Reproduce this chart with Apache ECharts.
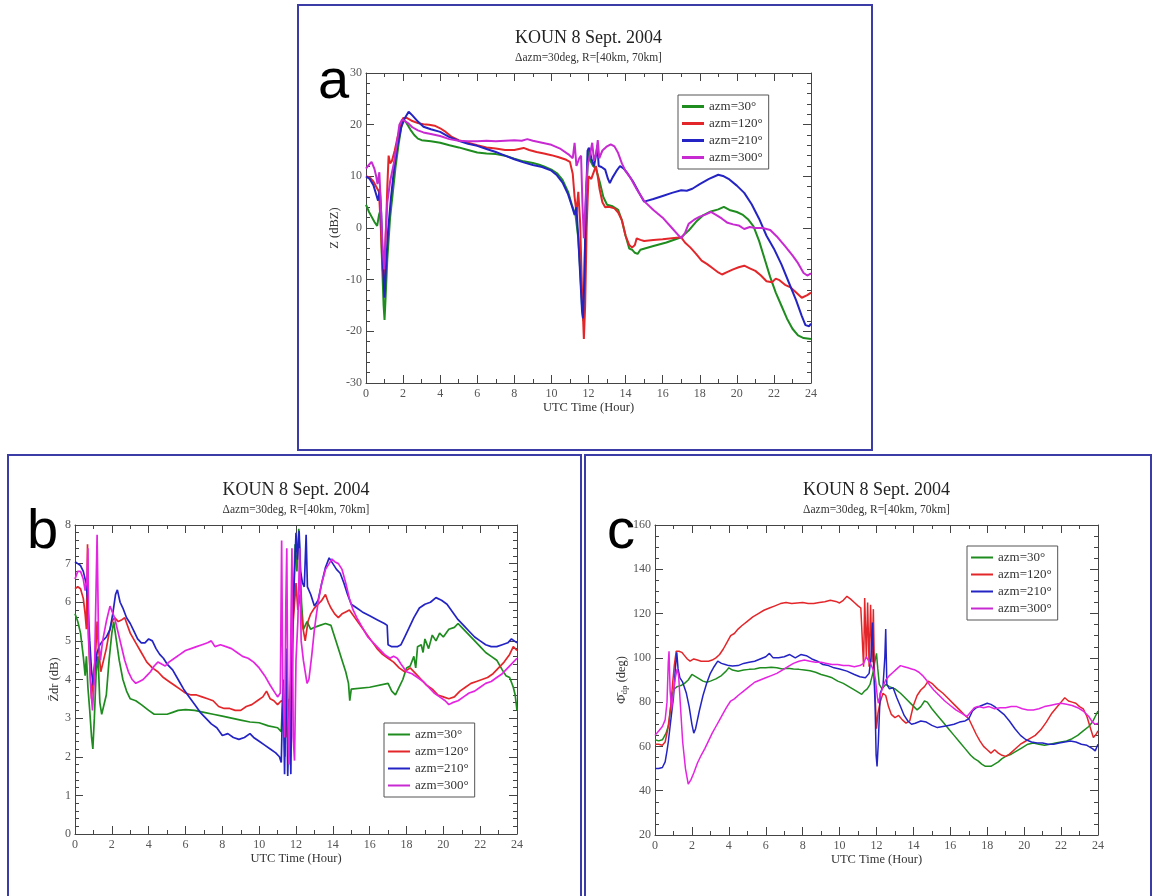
<!DOCTYPE html>
<html><head><meta charset="utf-8">
<script src="https://cdn.jsdelivr.net/npm/echarts@6/dist/echarts.min.js"></script>
<style>html,body{margin:0;padding:0;background:#fff}#c{width:1153px;height:896px}</style>
</head><body><div id="c"></div>
<script>
// ---------- DATA ----------
const seriesNames = ['azm=30°', 'azm=120°', 'azm=210°', 'azm=300°'];
const hourTicks = [0, 2, 4, 6, 8, 10, 12, 14, 16, 18, 20, 22, 24];
const titleText = 'KOUN 8 Sept. 2004';
const subtitleText = 'Δazm=30deg, R=[40km, 70km]';
const panelLetters = ['a', 'b', 'c'];
const xName = 'UTC Time (Hour)';

// Panel a: Z (dBZ)
const aG = [[0,4.5],[0.15,3.2],[0.3,2.2],[0.45,1.2],[0.6,0.4],[0.7,2.5],[0.78,3.5],[0.85,-5],[0.95,-15],[1.0,-17.8],[1.05,-14],[1.15,-6],[1.3,2],[1.45,7],[1.6,12],[1.75,16],[1.9,19.5],[2.0,21],[2.15,20.5],[2.4,19],[2.6,18],[2.8,17.3],[3.0,17],[3.5,16.8],[4.0,16.5],[4.5,16],[5.0,15.6],[5.5,15.1],[6.0,14.6],[6.5,14.4],[7.0,14.3],[7.5,14],[8.0,13.4],[8.5,12.9],[9.0,12.6],[9.3,12.3],[9.6,11.9],[10.0,11.3],[10.3,10.6],[10.6,9.3],[10.9,7],[11.1,4.5],[11.3,2.5],[11.45,-2],[11.55,-8],[11.65,-15],[11.72,-18],[11.8,-5],[11.9,8],[12.0,15.5],[12.1,13],[12.25,12],[12.4,11.5],[12.6,9],[12.8,6],[13.0,4.5],[13.3,4.2],[13.6,3.5],[13.8,1.5],[14.0,-1.5],[14.2,-4],[14.35,-4.2],[14.5,-4.8],[14.65,-5],[14.8,-4.2],[15.5,-3.5],[16.2,-2.8],[17.0,-1.8],[17.4,-0.5],[17.8,1.2],[18.2,2.5],[18.6,3.2],[19.0,3.6],[19.3,4.1],[19.6,3.5],[20.0,3.1],[20.3,2.6],[20.6,1.7],[20.9,0.3],[21.2,-2.5],[21.5,-6],[21.8,-9.5],[22.1,-12.5],[22.4,-15],[22.7,-17.5],[23.0,-19.5],[23.3,-20.8],[23.6,-21.3],[24,-21.5]];
const aR = [[0,10],[0.2,9.8],[0.4,9],[0.55,8],[0.7,7],[0.8,0],[0.9,-8],[0.97,-10],[1.05,-3],[1.15,8],[1.22,14],[1.3,12.5],[1.4,13],[1.55,15],[1.7,17.5],[1.85,19.5],[2.0,21.3],[2.2,21.3],[2.5,20.7],[2.8,20.3],[3.1,20.1],[3.4,20],[3.7,19.8],[4.0,19.3],[4.3,18.6],[4.6,17.7],[5.0,17],[5.5,16.5],[6.0,16],[6.5,15.6],[7.0,15.4],[7.5,15.1],[8.0,15.1],[8.5,15.5],[8.8,15.1],[9.2,14.7],[9.6,14.4],[10.0,14.1],[10.4,13.7],[10.8,13.2],[11.0,12.8],[11.15,10.5],[11.25,6],[11.35,3],[11.45,7],[11.55,1],[11.65,-12],[11.75,-21.5],[11.82,-15],[11.9,0],[12.0,10],[12.15,9.5],[12.3,11],[12.4,12],[12.5,10],[12.6,7.5],[12.75,5],[12.9,4],[13.1,4.1],[13.4,3.8],[13.6,3],[13.8,1.5],[14.0,-1.5],[14.2,-3.3],[14.35,-3.8],[14.5,-3.3],[14.6,-2],[14.8,-2.3],[15.0,-2.5],[15.5,-2.3],[16.0,-2.2],[16.5,-2],[17.0,-1.8],[17.2,-2.8],[17.5,-3.8],[17.8,-5],[18.1,-6.3],[18.4,-7],[18.7,-7.8],[19.0,-8.6],[19.2,-9],[19.5,-8.5],[19.8,-8],[20.1,-7.6],[20.4,-7.3],[20.7,-7.8],[21.0,-8.3],[21.3,-9.2],[21.6,-10.3],[21.9,-10.5],[22.1,-9.8],[22.3,-10.1],[22.6,-11],[22.9,-11.5],[23.2,-12.5],[23.5,-13.5],[23.8,-13],[24,-12.5]];
const aB = [[0,10],[0.2,9.5],[0.4,8.3],[0.55,6.5],[0.65,5.3],[0.75,7.5],[0.82,3],[0.9,-6],[1.0,-13.5],[1.07,-8],[1.2,0],[1.35,6],[1.5,11],[1.7,16],[1.9,19.5],[2.1,21.3],[2.3,22.5],[2.5,21.8],[2.8,20.6],[3.1,19.6],[3.5,19.1],[4.0,18.6],[4.5,17.6],[5.0,16.9],[5.5,16.3],[6.0,15.9],[6.5,15.3],[7.0,14.7],[7.5,14],[8.0,13.3],[8.5,12.7],[9.0,12.2],[9.5,11.8],[10.0,11.1],[10.3,10.2],[10.6,8.8],[10.9,6.5],[11.1,4.3],[11.25,2.5],[11.35,4],[11.45,-2],[11.55,-9],[11.65,-16],[11.7,-17.5],[11.78,-10],[11.85,4],[11.95,15],[12.05,15.5],[12.15,13.5],[12.3,12],[12.4,14],[12.48,16],[12.55,12],[12.7,11.8],[12.9,11.3],[13.05,9.5],[13.15,8.7],[13.3,9.8],[13.5,11],[13.7,12],[13.9,11.5],[14.1,10.6],[14.4,9],[14.7,7],[15.0,5.1],[15.5,5.6],[16.0,6.2],[16.5,6.8],[17.0,7.3],[17.3,7.2],[17.6,7.6],[18.0,8.5],[18.5,9.5],[19.0,10.3],[19.3,10],[19.6,9.4],[20.0,8.2],[20.4,6.8],[20.8,4.6],[21.2,1.8],[21.6,-1.5],[22.0,-4],[22.4,-7],[22.8,-10.5],[23.2,-14],[23.5,-17],[23.7,-18.8],[23.9,-19],[24,-18.5]];
const aM = [[0,11.5],[0.15,12.2],[0.3,12.8],[0.45,11.5],[0.55,10],[0.62,8.5],[0.72,10.8],[0.78,6],[0.88,-3],[0.98,-8],[1.05,-2],[1.15,5],[1.3,9],[1.5,12.5],[1.65,16],[1.8,20],[1.95,21],[2.1,20.7],[2.3,20.2],[2.5,19.5],[2.8,18.9],[3.1,18.5],[3.5,18.2],[4.0,17.8],[4.5,17.2],[5.0,16.9],[5.5,16.8],[6.0,16.8],[6.5,16.9],[7.0,16.8],[7.5,16.9],[8.0,17],[8.4,16.9],[8.7,17.2],[9.0,16.9],[9.5,16.5],[10.0,16.1],[10.5,15.3],[10.9,14.3],[11.15,13.5],[11.25,16.5],[11.35,12],[11.5,13.5],[11.6,14],[11.67,5],[11.75,-2],[11.85,6],[11.95,12],[12.1,14.5],[12.2,16.5],[12.3,13],[12.42,14.5],[12.5,17],[12.58,13.5],[12.75,15],[13.0,15.8],[13.2,16.2],[13.4,15.8],[13.6,14.5],[13.8,12.5],[14.0,11],[14.3,9.5],[14.6,7.5],[15.0,5.2],[15.5,3.5],[16.0,2],[16.5,0],[17.0,-2],[17.2,-1],[17.4,0.8],[17.7,1.6],[18.0,2.2],[18.3,2.6],[18.6,3.1],[18.9,2.5],[19.2,1.8],[19.5,1],[19.8,0.7],[20.1,0.5],[20.4,-0.2],[20.7,0.2],[21.0,0],[21.4,0],[21.8,-0.4],[22.2,-1.8],[22.6,-3.5],[23.0,-5.3],[23.3,-6.8],[23.6,-8.7],[23.8,-9.2],[24,-8.8]];

// Panel b: Zdr (dB)
const bG = [[0,5.7],[0.15,5.5],[0.3,5.2],[0.45,4.6],[0.55,4.1],[0.62,4.6],[0.7,3.8],[0.8,3.2],[0.9,2.5],[0.97,2.2],[1.05,3],[1.15,4.2],[1.25,4.6],[1.35,3.4],[1.45,3.1],[1.55,3.15],[1.7,3.6],[1.85,4.5],[2.0,5.2],[2.1,5.5],[2.25,5.0],[2.4,4.5],[2.6,4.0],[2.8,3.7],[3.0,3.5],[3.3,3.45],[3.6,3.35],[4.0,3.2],[4.3,3.1],[4.6,3.1],[5.0,3.1],[5.3,3.15],[5.6,3.2],[6.0,3.22],[6.5,3.2],[7.0,3.15],[7.5,3.1],[8.0,3.05],[8.5,3.0],[9.0,2.95],[9.5,2.9],[10.0,2.88],[10.5,2.8],[11.0,2.75],[11.2,2.65],[11.3,3.8],[11.4,2.0],[11.5,4.5],[11.6,2.5],[11.8,5.0],[11.95,7.5],[12.05,6.8],[12.15,7.9],[12.3,6.0],[12.4,5.3],[12.6,5.5],[12.8,5.3],[13.0,5.35],[13.3,5.4],[13.6,5.45],[13.9,5.4],[14.1,5.1],[14.3,4.8],[14.5,4.5],[14.7,4.2],[14.85,3.9],[14.92,3.45],[15.0,3.75],[16.0,3.8],[17.0,3.9],[17.2,3.7],[17.4,3.6],[17.6,3.8],[17.8,4.0],[18.0,4.3],[18.2,4.35],[18.4,4.6],[18.5,4.3],[18.6,4.85],[18.8,4.9],[18.9,4.7],[19.0,5.05],[19.2,4.8],[19.4,5.15],[19.6,5.0],[19.8,5.2],[20.0,5.1],[20.3,5.3],[20.6,5.35],[20.8,5.45],[21.0,5.35],[21.3,5.2],[21.6,5.05],[22.0,4.85],[22.3,4.7],[22.6,4.6],[22.9,4.5],[23.2,4.25],[23.4,4.1],[23.6,4.05],[23.8,3.8],[23.9,3.6],[24,3.2]];
const bR = [[0,6.35],[0.15,6.4],[0.3,6.35],[0.45,6.1],[0.55,5.7],[0.62,5.3],[0.68,7.5],[0.72,5.2],[0.82,4.2],[0.9,3.5],[1.0,4.2],[1.1,4.5],[1.2,5.5],[1.28,4.8],[1.4,4.2],[1.55,4.5],[1.7,4.8],[1.85,5.2],[2.0,5.5],[2.15,5.6],[2.35,5.5],[2.55,5.55],[2.7,5.6],[2.85,5.4],[3.0,5.2],[3.3,4.95],[3.6,4.7],[3.9,4.45],[4.2,4.3],[4.5,4.2],[4.8,4.05],[5.1,3.95],[5.4,3.85],[5.7,3.75],[6.0,3.65],[6.3,3.6],[6.6,3.6],[6.9,3.55],[7.2,3.5],[7.5,3.45],[7.8,3.3],[8.1,3.25],[8.4,3.25],[8.7,3.2],[9.0,3.2],[9.3,3.3],[9.6,3.35],[9.9,3.45],[10.2,3.55],[10.4,3.7],[10.6,3.5],[10.8,3.45],[11.0,3.35],[11.2,3.45],[11.35,3.4],[11.45,2.5],[11.55,3.5],[11.7,2.0],[11.85,5.5],[12.0,6.5],[12.1,5.8],[12.2,6.2],[12.35,5.4],[12.5,5.0],[12.65,5.5],[12.8,5.7],[13.0,5.85],[13.2,5.95],[13.4,6.05],[13.6,6.2],[13.75,6.0],[13.9,5.85],[14.1,5.7],[14.3,5.6],[14.5,5.7],[14.7,5.75],[14.9,5.8],[15.2,5.6],[15.5,5.4],[15.8,5.2],[16.1,5.0],[16.4,4.8],[16.7,4.65],[17.0,4.55],[17.3,4.45],[17.6,4.3],[17.9,4.2],[18.2,4.3],[18.5,4.15],[18.8,4.0],[19.1,3.85],[19.4,3.75],[19.7,3.6],[20.0,3.55],[20.3,3.5],[20.6,3.55],[20.9,3.7],[21.2,3.8],[21.5,3.9],[21.8,3.95],[22.1,4.0],[22.4,4.05],[22.7,4.15],[23.0,4.3],[23.3,4.45],[23.6,4.65],[23.8,4.85],[24,4.75]];
const bB = [[0,7.05],[0.15,7.0],[0.3,6.95],[0.45,6.8],[0.6,6.5],[0.7,6.0],[0.8,5.0],[0.9,4.2],[1.0,3.85],[1.1,4.3],[1.2,4.7],[1.35,4.9],[1.5,5.0],[1.7,5.1],[1.9,5.3],[2.05,5.7],[2.2,6.2],[2.3,6.32],[2.45,6.0],[2.6,5.85],[2.8,5.6],[3.0,5.45],[3.2,5.25],[3.4,5.05],[3.6,4.95],[3.8,4.95],[4.0,5.05],[4.2,5.0],[4.4,4.8],[4.6,4.65],[4.8,4.55],[5.0,4.4],[5.3,4.25],[5.6,4.0],[5.9,3.75],[6.2,3.55],[6.5,3.35],[6.8,3.15],[7.1,3.0],[7.4,2.85],[7.7,2.75],[8.0,2.55],[8.3,2.6],[8.6,2.5],[8.9,2.45],[9.2,2.5],[9.5,2.6],[9.7,2.5],[10.0,2.4],[10.3,2.3],[10.6,2.2],[10.9,2.1],[11.1,2.0],[11.2,1.85],[11.3,4.0],[11.38,1.55],[11.48,4.8],[11.55,1.5],[11.65,3.5],[11.72,1.55],[11.8,5.0],[11.9,6.5],[12.0,7.8],[12.08,7.1],[12.17,7.85],[12.25,6.8],[12.35,6.5],[12.45,6.4],[12.55,7.75],[12.62,6.4],[12.8,6.2],[13.0,5.9],[13.2,6.05],[13.4,6.5],[13.6,6.9],[13.8,7.15],[14.0,7.0],[14.2,6.85],[14.4,6.75],[14.6,6.5],[14.8,6.2],[15.0,5.95],[15.3,5.85],[15.6,5.75],[16.0,5.65],[16.4,5.55],[16.8,5.45],[16.95,5.4],[17.0,4.9],[17.2,4.85],[17.5,4.85],[17.7,4.9],[17.9,5.1],[18.1,5.3],[18.4,5.6],[18.7,5.85],[19.0,5.95],[19.3,6.0],[19.6,6.12],[19.9,6.05],[20.2,5.95],[20.5,5.75],[20.8,5.55],[21.1,5.4],[21.4,5.25],[21.7,5.1],[22.0,5.0],[22.3,4.9],[22.6,4.85],[22.9,4.85],[23.2,4.9],[23.5,4.95],[23.7,5.05],[23.85,5.0],[24,4.95]];
const bM = [[0,6.6],[0.15,6.8],[0.3,6.8],[0.45,6.6],[0.55,6.3],[0.65,6.6],[0.7,7.4],[0.75,5.0],[0.85,3.8],[0.95,3.2],[1.05,4.0],[1.15,6.5],[1.2,7.75],[1.28,5.0],[1.38,4.5],[1.5,5.0],[1.7,5.5],[1.9,5.9],[2.0,5.95],[2.15,5.6],[2.3,5.3],[2.5,4.9],[2.7,4.5],[2.9,4.2],[3.1,4.0],[3.3,3.9],[3.5,3.95],[3.7,4.0],[3.9,4.1],[4.1,4.2],[4.3,4.35],[4.5,4.45],[4.7,4.4],[4.9,4.35],[5.1,4.45],[5.4,4.55],[5.7,4.65],[6.0,4.75],[6.3,4.8],[6.6,4.85],[6.9,4.9],[7.2,4.95],[7.4,5.0],[7.6,4.85],[7.9,4.9],[8.2,4.85],[8.5,4.8],[8.8,4.7],[9.1,4.6],[9.4,4.55],[9.7,4.45],[10.0,4.3],[10.3,4.1],[10.6,3.85],[10.8,3.7],[11.0,3.55],[11.15,3.65],[11.22,7.6],[11.28,4.0],[11.38,2.5],[11.45,6.0],[11.5,7.4],[11.56,3.0],[11.62,1.8],[11.7,4.5],[11.78,7.4],[11.85,2.5],[11.92,1.9],[12.0,4.5],[12.1,5.5],[12.2,7.4],[12.28,5.0],[12.4,4.5],[12.5,4.2],[12.6,3.9],[12.7,4.0],[12.85,4.6],[13.0,5.3],[13.2,6.0],[13.4,6.5],[13.6,6.85],[13.8,7.0],[13.95,7.12],[14.1,7.05],[14.3,7.0],[14.5,6.85],[14.7,6.5],[14.9,6.1],[15.1,5.8],[15.3,5.6],[15.6,5.35],[15.9,5.1],[16.2,4.95],[16.5,4.8],[16.8,4.65],[17.1,4.55],[17.3,4.6],[17.5,4.55],[17.7,4.4],[18.0,4.2],[18.3,4.15],[18.6,4.05],[18.9,3.95],[19.2,3.8],[19.5,3.65],[19.8,3.55],[20.1,3.45],[20.3,3.35],[20.5,3.4],[20.8,3.45],[21.1,3.55],[21.4,3.65],[21.7,3.7],[22.0,3.8],[22.3,3.9],[22.6,3.95],[22.9,4.05],[23.2,4.15],[23.5,4.3],[23.8,4.45],[24,4.55]];

// Panel c: Phi_dp (deg)
const cG = [[0,63],[0.2,62.5],[0.4,63],[0.6,66],[0.75,70],[0.85,78],[0.95,84],[1.05,86],[1.2,87],[1.4,87.5],[1.6,88.5],[1.8,90],[2.0,92.5],[2.2,91.5],[2.4,90.5],[2.6,89.5],[2.8,89],[3.0,89.5],[3.3,90.5],[3.6,92],[3.85,94],[4.0,95.5],[4.2,94.5],[4.5,94],[4.8,94.5],[5.1,94.8],[5.4,95],[5.7,95.5],[6.0,95.5],[6.3,95.8],[6.6,95.5],[6.9,95],[7.2,95.3],[7.5,95],[7.8,94.8],[8.1,94.5],[8.4,94.2],[8.7,93.5],[9.0,92.5],[9.3,91.8],[9.6,91],[9.9,89.5],[10.2,88.5],[10.5,87],[10.8,85.5],[11.0,84.5],[11.2,83.5],[11.35,85],[11.5,86],[11.65,88],[11.8,93],[11.95,100],[12.0,102],[12.07,95],[12.15,88],[12.3,86],[12.5,88],[12.7,87],[13.0,86],[13.3,84],[13.6,81.5],[13.9,79],[14.2,76.5],[14.4,78],[14.6,80.5],[14.75,80],[15.0,77],[15.3,74],[15.6,71],[15.9,68],[16.2,65],[16.5,62],[16.8,59],[17.1,56],[17.3,54.5],[17.5,53.5],[17.7,52],[17.9,51],[18.0,50.5],[18.2,51],[18.4,52],[18.6,53],[18.8,54.5],[19.0,55.5],[19.3,56.5],[19.6,58],[19.9,59.5],[20.2,61],[20.5,61.5],[20.8,61],[21.1,60.5],[21.4,61],[21.7,61.5],[22.0,62],[22.3,62.5],[22.6,63.5],[22.9,65],[23.2,67],[23.5,69],[23.7,71],[23.85,73.5],[24,76]];
const cR = [[0,61],[0.2,61],[0.4,60.5],[0.55,62],[0.7,68],[0.85,78],[0.95,88],[1.05,97],[1.15,103],[1.3,103],[1.45,102.5],[1.6,101],[1.75,99.5],[1.9,98.5],[2.1,99.5],[2.3,99],[2.5,98.5],[2.7,98.5],[2.9,98.5],[3.1,99],[3.3,100],[3.5,101.5],[3.7,104],[3.9,107],[4.1,110],[4.3,111],[4.5,113],[4.7,114.5],[5.0,116.5],[5.3,118.5],[5.6,120],[5.9,121.5],[6.2,122.5],[6.5,123.5],[6.8,124.5],[7.1,125],[7.4,124.5],[7.7,124.8],[8.0,125],[8.3,124.6],[8.6,124.5],[8.9,125],[9.2,125.3],[9.5,126],[9.8,125.5],[10.0,124.8],[10.2,126],[10.4,127.8],[10.6,126.5],[10.8,125],[11.0,123.5],[11.15,122.5],[11.25,123],[11.3,96],[11.36,127],[11.45,100],[11.52,125],[11.6,96],[11.68,124],[11.76,98],[11.83,122],[11.9,88],[12.0,68],[12.08,75],[12.2,80],[12.35,84],[12.5,83],[12.65,78],[12.8,74.5],[13.0,73],[13.2,74],[13.4,72],[13.6,70.5],[13.8,71.5],[13.9,75],[14.0,78.5],[14.2,83],[14.4,85.5],[14.6,87],[14.8,89.5],[15.0,88.5],[15.3,86],[15.6,84],[15.9,81.5],[16.2,79],[16.5,76.5],[16.8,74],[17.0,72.5],[17.2,69],[17.4,65.5],[17.6,62.5],[17.8,60],[18.0,58.5],[18.2,57],[18.4,58.5],[18.6,57],[18.8,56],[19.0,55.5],[19.2,56.5],[19.4,58],[19.6,59.5],[19.8,61],[20.0,62],[20.3,63.5],[20.6,65],[20.9,67.5],[21.2,71],[21.5,75],[21.8,78],[22.0,80],[22.2,82],[22.4,80.5],[22.6,80],[22.8,79.5],[23.0,78],[23.2,77],[23.4,73.5],[23.6,68],[23.75,64],[23.9,65.5],[24,67]];
const cB = [[0,50],[0.2,50],[0.4,50.5],[0.55,53],[0.65,58],[0.72,62],[0.8,61.5],[0.9,75],[1.0,82],[1.1,95],[1.18,102.5],[1.25,95],[1.35,91],[1.5,89],[1.7,84],[1.85,78],[2.0,70],[2.1,66],[2.2,68],[2.4,76],[2.6,83],[2.8,88.5],[3.0,93],[3.2,96],[3.4,98.5],[3.6,97.5],[3.8,97],[4.0,96.5],[4.2,96.3],[4.5,96.5],[4.8,97.5],[5.1,98],[5.4,98.5],[5.7,99.5],[6.0,100.5],[6.2,102],[6.4,100],[6.7,100],[7.0,100.5],[7.3,101.5],[7.6,100],[7.9,101.5],[8.2,101],[8.5,99.5],[8.8,98.5],[9.1,97],[9.4,96.5],[9.7,95.5],[10.0,95],[10.4,94],[10.8,92.5],[11.1,91.5],[11.4,91],[11.6,93],[11.7,100],[11.78,116],[11.85,95],[11.92,80],[11.98,56],[12.03,51],[12.1,62],[12.2,84],[12.35,87],[12.45,100],[12.5,113],[12.56,88],[12.7,86],[12.9,86.5],[13.1,82],[13.3,78],[13.5,74],[13.7,71.5],[13.9,70],[14.1,70.5],[14.4,71.5],[14.7,71],[15.0,69.5],[15.3,68.5],[15.6,69],[15.9,69.5],[16.2,70],[16.5,71],[16.8,71.5],[17.0,72.5],[17.2,76],[17.4,77.5],[17.7,78.5],[18.0,79.5],[18.2,79],[18.4,78],[18.6,76.5],[18.9,74.5],[19.2,71.5],[19.5,68],[19.8,65],[20.1,63],[20.4,62],[20.7,61.5],[21.0,61.5],[21.3,61],[21.6,61],[21.9,61.5],[22.2,62],[22.5,62.5],[22.8,62],[23.1,61],[23.4,60.5],[23.7,59],[23.85,58],[24,61]];
const cM = [[0,65],[0.2,67],[0.4,69],[0.55,72],[0.65,80],[0.72,98],[0.76,103],[0.82,85],[0.9,77],[1.0,84],[1.1,91],[1.2,95],[1.28,92],[1.38,78],[1.5,62],[1.65,50],[1.8,43],[1.95,45],[2.1,48],[2.3,52.5],[2.5,56],[2.7,59],[2.9,62.5],[3.1,66],[3.3,69],[3.5,72],[3.7,75],[3.9,78],[4.1,80.5],[4.3,81.5],[4.5,83],[4.8,85],[5.1,87],[5.4,89],[5.7,90],[6.0,91],[6.3,92],[6.6,93],[6.9,94.5],[7.2,96],[7.5,97.5],[7.8,98.5],[8.1,99],[8.4,98.5],[8.7,98],[9.0,98],[9.3,97.5],[9.6,97],[9.9,97],[10.2,96.5],[10.5,96.5],[10.8,96],[11.1,96.5],[11.3,97.5],[11.45,100.5],[11.55,99],[11.7,97],[11.85,94],[11.95,90],[12.05,82],[12.1,79.5],[12.2,83],[12.35,87],[12.5,90],[12.7,92],[12.9,93.5],[13.1,95],[13.3,96.5],[13.5,96],[13.7,95.5],[13.9,95],[14.1,94.5],[14.3,93.5],[14.5,92],[14.7,90],[14.9,87.5],[15.1,85.5],[15.4,83],[15.7,80.5],[16.0,78.5],[16.3,76.5],[16.6,75],[16.9,73.5],[17.0,73],[17.15,76],[17.3,77.5],[17.5,78],[17.8,77.5],[18.1,78],[18.4,77],[18.7,77.5],[19.0,77.5],[19.3,78],[19.6,78],[19.9,77],[20.2,76.5],[20.5,76.5],[20.8,77],[21.1,78],[21.4,78.5],[21.7,79],[22.0,79.5],[22.3,79],[22.6,78.5],[22.9,77.5],[23.2,76],[23.5,73.5],[23.7,71],[23.85,70],[24,70.5]];

// ---------- STYLE / LAYOUT ----------
const SERIF = '"Liberation Serif","DejaVu Serif",serif';
const SANS = '"Liberation Sans",Arial,sans-serif';
const colors = ['#1f8c1f', '#e3262a', '#2424c4', '#e424e0'];
const colorsA = ['#1f8c1f', '#e3262a', '#2424c4', '#c82ad2'];
const panels = [
  { grid: { left: 366, top: 73, width: 445, height: 310 }, y: { min: -30, max: 30, interval: 10, minor: 5 }, yName: 'Z (dBZ)', yGap: 25,
    data: [aG, aR, aB, aM], lw: 2, cols: colorsA, legend: { left: 678, top: 95 }, box: [298, 5, 574, 445], letter: [318, 55] },
  { grid: { left: 75, top: 525, width: 442, height: 309 }, y: { min: 0, max: 8, interval: 1, minor: 5 }, yName: 'Z\u0304dr (dB)', yGap: 13,
    data: [bG, bR, bB, bM], lw: 1.7, cols: colors, legend: { left: 384, top: 723 }, box: [8, 455, 573, 450], letter: [27, 505] },
  { grid: { left: 655, top: 525, width: 443, height: 310 }, y: { min: 20, max: 160, interval: 20, minor: 4 }, yName: '{p|Φ\u0304}{s|dp} (deg)', yGap: 26,
    data: [cG, cR, cB, cM], lw: 1.5, cols: colors, legend: { left: 967, top: 546 }, box: [585, 455, 566, 450], letter: [607, 505] }
];

const axisLineStyle = { color: '#444', width: 1 };
const xAxes = [], yAxes = [], series = [], legends = [], graphics = [];
panels.forEach((p, i) => {
  const base = {
    gridIndex: i, type: 'value', min: hourTicks[0], max: hourTicks[hourTicks.length - 1], interval: hourTicks[1] - hourTicks[0],
    axisLine: { show: true, onZero: false, lineStyle: axisLineStyle },
    axisTick: { show: true, inside: true, length: 8, lineStyle: { color: '#444' } },
    minorTick: { show: true, splitNumber: 2, length: 4, lineStyle: { color: '#444' } },
    splitLine: { show: false }
  };
  xAxes.push(Object.assign({}, base, {
    position: 'bottom', name: xName, nameLocation: 'middle', nameGap: 18,
    nameTextStyle: { fontFamily: SERIF, fontSize: 12.5, color: '#333' },
    axisLabel: { show: true, margin: 5, fontFamily: SERIF, fontSize: 12, color: '#555' }
  }));
  xAxes.push(Object.assign({}, base, { position: 'top', axisLabel: { show: false } }));
  const yb = {
    gridIndex: i, type: 'value', min: p.y.min, max: p.y.max, interval: p.y.interval,
    axisLine: { show: true, onZero: false, lineStyle: axisLineStyle },
    axisTick: { show: true, inside: true, length: 8, lineStyle: { color: '#444' } },
    minorTick: { show: true, splitNumber: p.y.minor, length: 4, lineStyle: { color: '#444' } },
    splitLine: { show: false }
  };
  yAxes.push(Object.assign({}, yb, {
    position: 'left', name: p.yName, nameLocation: 'middle', nameGap: p.yGap, nameRotate: 90,
    nameTextStyle: { fontFamily: SERIF, fontSize: 12.5, color: '#333',
      rich: { p: { fontFamily: SERIF, fontSize: 13, color: '#333' }, s: { fontFamily: SERIF, fontSize: 9, color: '#333', padding: [6, 0, 0, 0] } } },
    axisLabel: { show: true, margin: 4, fontFamily: SERIF, fontSize: 12, color: '#555' }
  }));
  yAxes.push(Object.assign({}, yb, { position: 'right', axisLabel: { show: false } }));
  p.data.forEach((d, k) => {
    series.push({
      name: seriesNames[k], type: 'line', xAxisIndex: 2 * i, yAxisIndex: 2 * i, data: d,
      showSymbol: false, symbol: 'none', smooth: false, color: p.cols[k],
      lineStyle: { color: p.cols[k], width: p.lw }, z: 2 + k
    });
  });
  legends.push({
    left: p.legend.left, top: p.legend.top, orient: 'vertical', data: seriesNames.slice(),
    icon: 'rect', itemWidth: 22, itemHeight: i === 0 ? 3 : 2, itemGap: 4,
    padding: [5, 6, 5, 4], borderColor: '#555', borderWidth: 1, backgroundColor: '#fff',
    selectedMode: false, textStyle: { fontFamily: SERIF, fontSize: 13, color: '#333', lineHeight: 13 }
  });
  const g = p.grid, cx = g.left + g.width / 2;
  graphics.push({ type: 'rect', shape: { x: p.box[0], y: p.box[1], width: p.box[2], height: p.box[3] },
    style: { fill: null, stroke: '#3c3ca6', lineWidth: 2 }, z: 0, silent: true });
  graphics.push({ type: 'text', x: p.letter[0], y: p.letter[1], style: { text: panelLetters[i], font: '56px ' + SANS, fill: '#000', align: 'left', verticalAlign: 'alphabetic' } });
  graphics.push({ type: 'text', x: cx, y: g.top - 35, style: { text: titleText, font: '18px ' + SERIF, fill: '#222', align: 'center', verticalAlign: 'middle' } });
  graphics.push({ type: 'text', x: cx, y: g.top - 15, style: { text: subtitleText, font: '11.5px ' + SERIF, fill: '#333', align: 'center', verticalAlign: 'middle' } });
});

const chart = echarts.init(document.getElementById('c'), null, { renderer: 'canvas' });
chart.setOption({
  backgroundColor: '#fff', animation: false,
  grid: panels.map(p => Object.assign({ containLabel: false }, p.grid)),
  xAxis: xAxes, yAxis: yAxes, series: series, legend: legends, graphic: graphics
});
</script></body></html>
